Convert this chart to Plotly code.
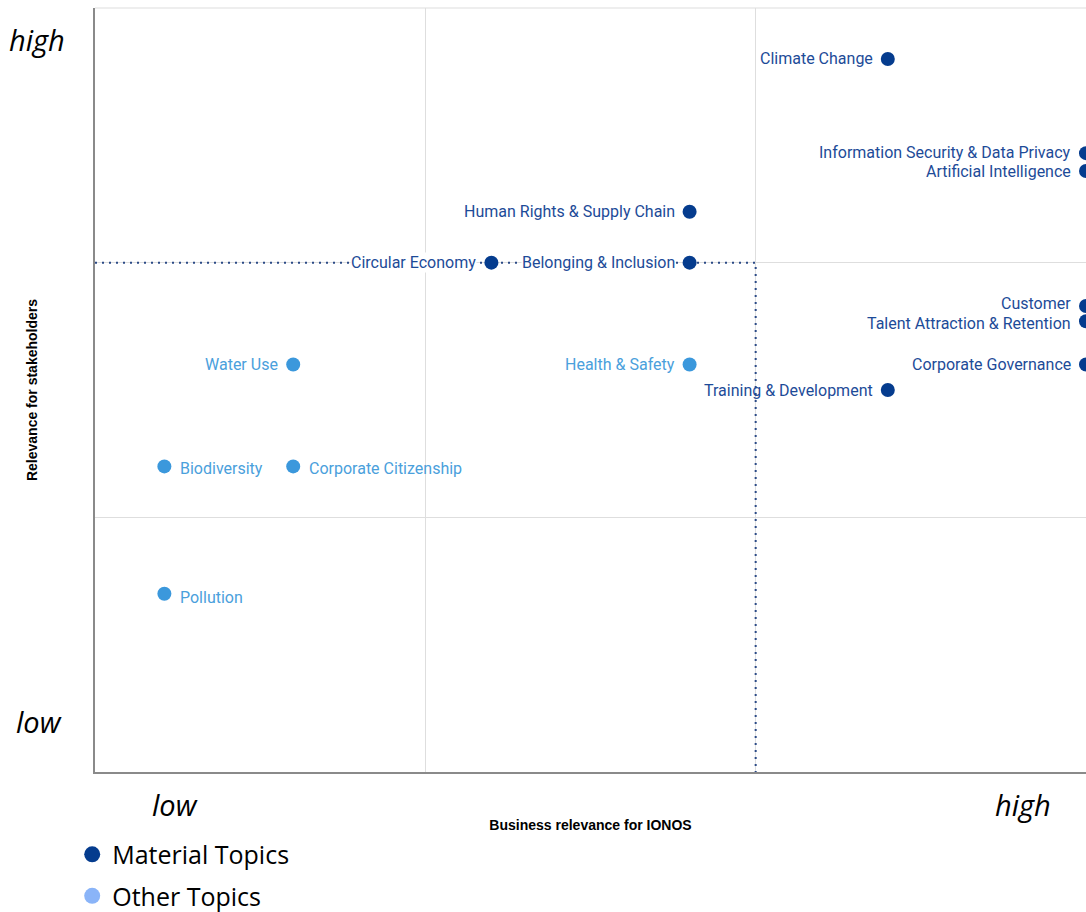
import plotly.graph_objects as go

# ---- data ----
material_topics = ["Climate Change", "Information Security & Data Privacy", "Artificial Intelligence",
                   "Human Rights & Supply Chain", "Circular Economy", "Belonging & Inclusion",
                   "Customer", "Talent Attraction & Retention", "Corporate Governance",
                   "Training & Development"]
material_x = [2.40, 3.0, 3.0, 1.80, 1.20, 1.80, 3.0, 3.0, 3.0, 2.40]
material_y = [2.80, 2.43, 2.36, 2.20, 2.00, 2.00, 1.83, 1.77, 1.60, 1.50]
material_label_dy = [0, 1, -1, 0, 0, 0, 2, -2, 0, 0]

other_topics = ["Health & Safety", "Water Use", "Biodiversity", "Corporate Citizenship", "Pollution"]
other_x = [1.80, 0.60, 0.21, 0.60, 0.21]
other_y = [1.60, 1.60, 1.20, 1.20, 0.70]
other_label_side = ["left", "left", "right", "right", "right"]
other_label_dy = [0, 0, -2, -2, -4]

threshold_x = 2.0
threshold_y = 2.0
axis_low, axis_high = "low", "high"

DARK = "#053c8e"
DARK_TXT = "#1d4b98"
LIGHT = "#3b98dc"
LIGHT_TXT = "#4aa0dc"
LEGEND_LIGHT = "#8ab4f8"

fig = go.Figure()

# threshold dotted lines
fig.add_trace(go.Scatter(x=[0, threshold_x, threshold_x], y=[threshold_y, threshold_y, 0],
                         mode="lines", line=dict(color="#2b4a86", width=2, dash="2px,5px"),
                         showlegend=False, hoverinfo="skip", cliponaxis=False))

fig.add_trace(go.Scatter(x=material_x, y=material_y, mode="markers", text=material_topics,
                         marker=dict(color=DARK, size=14), showlegend=False, cliponaxis=False))
fig.add_trace(go.Scatter(x=other_x, y=other_y, mode="markers", text=other_topics,
                         marker=dict(color=LIGHT, size=14), showlegend=False, cliponaxis=False))

# legend-only traces
fig.add_trace(go.Scatter(x=[None], y=[None], mode="markers", name="Material Topics",
                         legendgroup="m", marker=dict(color=DARK, size=20)))
fig.add_trace(go.Scatter(x=[None], y=[None], mode="markers", name="Other Topics",
                         legendgroup="o", marker=dict(color=LEGEND_LIGHT, size=20)))

label_font = dict(family="Roboto", size=16)
for name, x, y, dy in zip(material_topics, material_x, material_y, material_label_dy):
    fig.add_annotation(x=x, y=y, text=name, showarrow=False, xanchor="right", xshift=-14,
                       yshift=dy, font=dict(label_font, color=DARK_TXT),
                       bgcolor="white" if y == threshold_y else "rgba(0,0,0,0)", borderpad=0)
for name, x, y, side, dy in zip(other_topics, other_x, other_y, other_label_side, other_label_dy):
    fig.add_annotation(x=x, y=y, text=name, showarrow=False,
                       xanchor="right" if side == "left" else "left",
                       xshift=-14 if side == "left" else 15, yshift=dy,
                       font=dict(label_font, color=LIGHT_TXT), borderpad=0)

# axis end labels
big = dict(family="Open Sans", size=29, color="black")
fig.add_annotation(xref="paper", yref="paper", x=-0.059, y=0.959, text=f"<i>{axis_high}</i>",
                   showarrow=False, font=big, xanchor="center", yanchor="middle")
fig.add_annotation(xref="paper", yref="paper", x=-0.057, y=0.066, text=f"<i>{axis_low}</i>",
                   showarrow=False, font=big, xanchor="center", yanchor="middle")
fig.add_annotation(xref="paper", yref="paper", x=0.081, y=-0.042, text=f"<i>{axis_low}</i>",
                   showarrow=False, font=big, xanchor="center", yanchor="middle")
fig.add_annotation(xref="paper", yref="paper", x=0.936, y=-0.042, text=f"<i>{axis_high}</i>",
                   showarrow=False, font=big, xanchor="center", yanchor="middle")

# top border
fig.add_shape(type="line", xref="paper", yref="paper", x0=0, x1=1, y0=1, y1=1,
              line=dict(color="#dddddd", width=1))

fig.update_xaxes(range=[0, 3], tickvals=[1, 2], showticklabels=False, showgrid=True,
                 gridcolor="#dedede", gridwidth=1, zeroline=False, showline=True,
                 linecolor="#8a8a8a", linewidth=1.5, automargin=False,
                 title=dict(text="<b>Business relevance for IONOS</b>",
                            font=dict(family="Liberation Sans", size=14, color="black"),
                            standoff=47))
fig.update_yaxes(range=[0, 3], tickvals=[1, 2], showticklabels=False, showgrid=True,
                 gridcolor="#dedede", gridwidth=1, zeroline=False, showline=True,
                 linecolor="#8a8a8a", linewidth=1.5, automargin=False,
                 title=dict(text="<b>Relevance for stakeholders</b>",
                            font=dict(family="Liberation Sans", size=14, color="black"),
                            standoff=52))

fig.update_layout(
    width=1086, height=912,
    margin=dict(l=95, r=0, t=8, b=140, autoexpand=False),
    plot_bgcolor="white", paper_bgcolor="white",
    legend=dict(x=-0.023, y=-0.078, xanchor="left", yanchor="top",
                font=dict(family="Open Sans", size=25, color="black"),
                itemsizing="trace", tracegroupgap=6, bgcolor="rgba(0,0,0,0)"),
    hovermode="closest",
)

fig.write_html("out.html")
